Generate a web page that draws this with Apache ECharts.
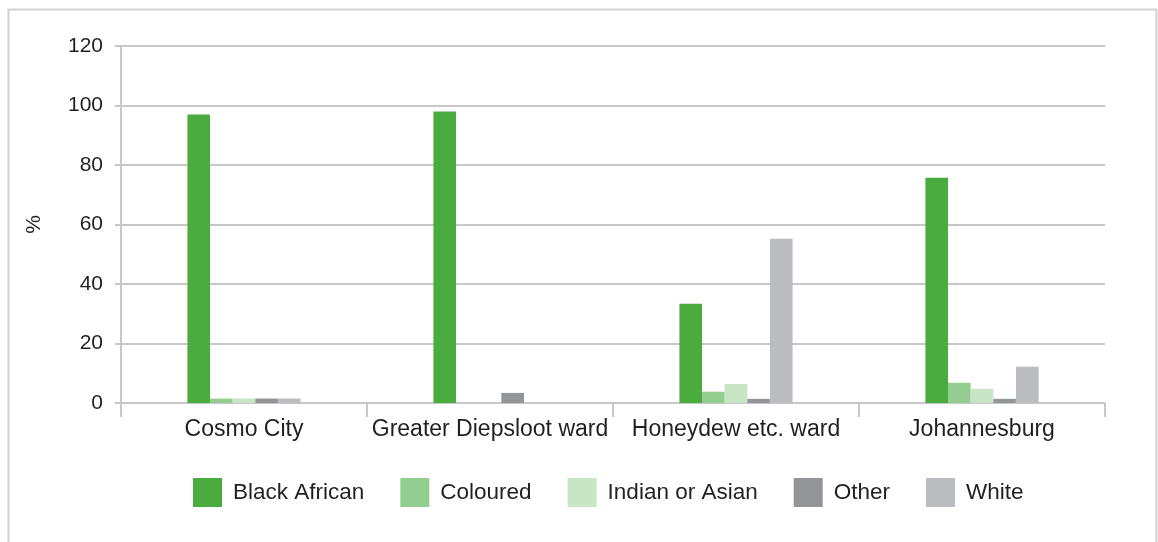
<!DOCTYPE html>
<html><head><meta charset="utf-8">
<script src="https://cdn.jsdelivr.net/npm/echarts@6/dist/echarts.min.js"></script>
<style>html,body{margin:0;padding:0;background:#fff}#c{width:1158px;height:542px}</style>
</head><body><div id="c"></div>
<script>
const categories = ["Cosmo City", "Greater Diepsloot ward", "Honeydew etc. ward", "Johannesburg"];
const seriesNames = ["Black African", "Coloured", "Indian or Asian", "Other", "White"];
const blackAfrican = [97, 98, 33.4, 75.7];
const coloured = [1.5, 0, 3.8, 6.8];
const indianAsian = [1.5, 0, 6.4, 4.8];
const other = [1.5, 3.4, 1.4, 1.4];
const white = [1.5, 0, 55.2, 12.2];
const yTicks = [0, 20, 40, 60, 80, 100, 120];
const colors = ["#4aab3f", "#93cd8f", "#c8e6c6", "#939598", "#bbbcc0"];
const values = [blackAfrican, coloured, indianAsian, other, white];
const font = "Liberation Sans";
const chart = echarts.init(document.getElementById('c'));
chart.setOption({
  animation: false,
  color: colors,
  graphic: [{type:'polyline', shape:{points:[[8.5,542],[8.5,9.5],[1156.5,9.5],[1156.5,542]]}, style:{stroke:'#d2d2d2', lineWidth:2, fill:null}}],
  grid: {left: 121, right: 53, top: 46, bottom: 139},
  legend: {
    left: 193, top: 478, padding: 0, itemWidth: 29, itemHeight: 29, itemGap: 36,
    icon: 'rect',
    textStyle: {fontFamily: font, fontSize: 22.5, color: '#231f20', padding: [0,0,0,6]},
    data: seriesNames
  },
  xAxis: {
    type: 'category', data: categories,
    axisLine: {lineStyle: {color: '#c8c8c8', width: 2}},
    axisTick: {show: true, length: 14, lineStyle: {color: '#c8c8c8', width: 2}},
    axisLabel: {interval: 0, fontFamily: font, fontSize: 23, color: '#231f20', margin: 15}
  },
  yAxis: {
    type: 'value', min: 0, max: 120, interval: 20,
    name: '%', nameLocation: 'middle', nameGap: 76, nameRotate: 90,
    nameTextStyle: {fontFamily: font, fontSize: 21, color: '#231f20'},
    axisLine: {show: true, lineStyle: {color: '#c8c8c8', width: 2}},
    axisTick: {show: true, length: 6, lineStyle: {color: '#c8c8c8', width: 2}},
    splitLine: {lineStyle: {color: '#c8c8c8', width: 2}},
    axisLabel: {fontFamily: font, fontSize: 21, color: '#231f20', margin: 18,
      formatter: v => yTicks.includes(v) ? String(v) : ''}
  },
  series: seriesNames.map((n, i) => ({
    name: n, type: 'bar', data: values[i], barGap: '0%', barCategoryGap: '54%',
    itemStyle: {color: colors[i]}
  }))
});
</script></body></html>
